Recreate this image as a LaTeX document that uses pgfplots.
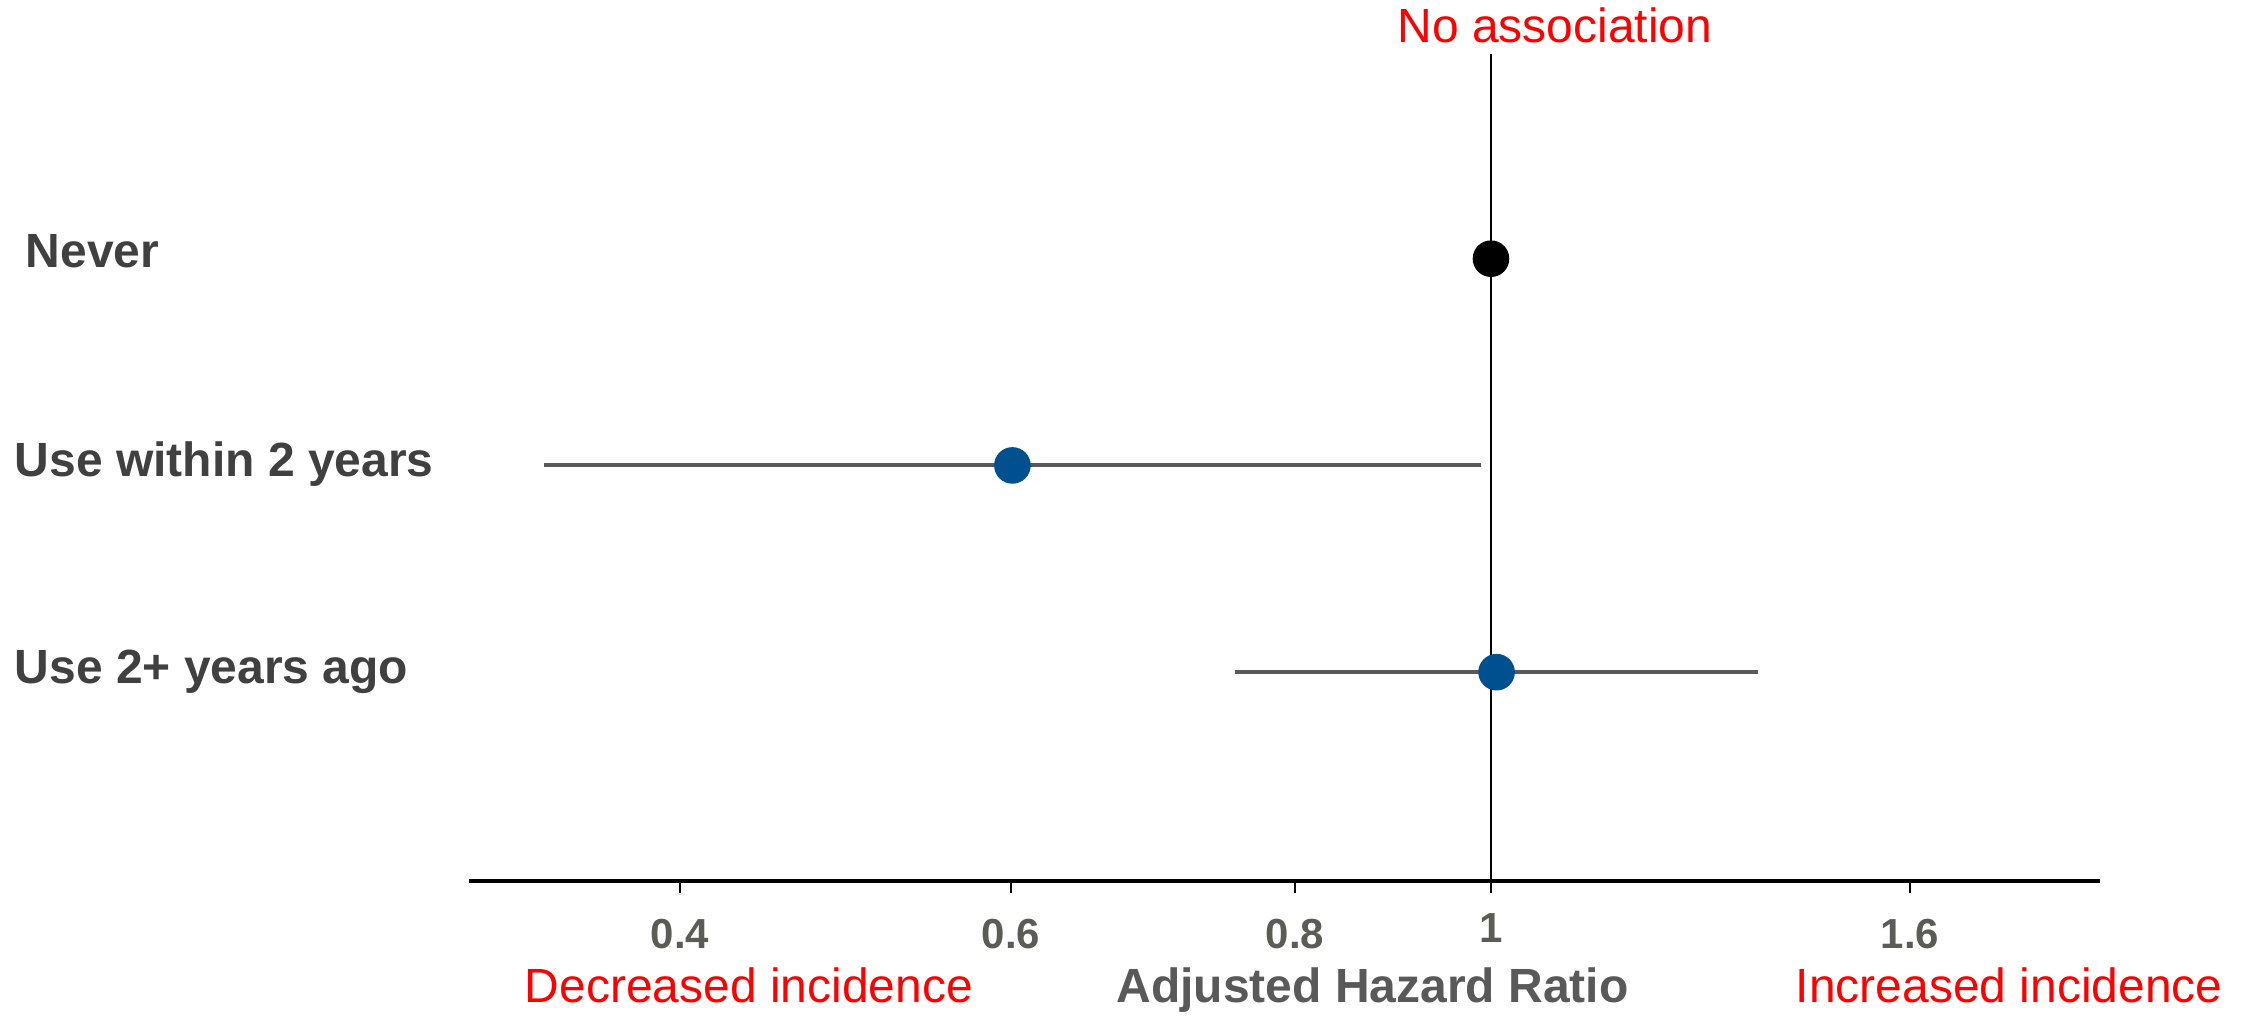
\documentclass[border=0pt]{standalone}
\usepackage{pgfplots}
\pgfplotsset{compat=1.18}
\usepackage{fontspec}
\setmainfont{Liberation Sans}
\definecolor{rowtxt}{HTML}{404040}
\definecolor{ticktxt}{HTML}{5C5C56}
\definecolor{titletxt}{HTML}{595959}
\definecolor{barcol}{HTML}{595959}
\definecolor{ptblue}{HTML}{00508F}
\definecolor{redtxt}{HTML}{FF0000}
\begin{document}
\begin{tikzpicture}
\useasboundingbox (0,0) rectangle (560.75pt,254.5pt);
\begin{axis}[
  at={(117.25pt,34.25pt)}, anchor=south west,
  scale only axis, width=407.75pt, height=206.75pt,
  x coord trafo/.code={\pgfmathparse{(#1<0.6)?(680+(#1-0.4)*1655):((#1<0.8)?(1011+(#1-0.6)*1420):((#1<1)?(1295+(#1-0.8)*980):(1491+(#1-1)*698.3333)))}},
  xmin=0.27251, xmax=1.87208,
  ymin=-0.01, ymax=3.99,
  axis x line*=bottom, axis y line=none,
  x axis line style={-, line width=1pt, black},
  xtick={0.4,0.6,0.8,1,1.6},
  xticklabels={\textbf{0.4},\textbf{0.6},\textbf{0.8},\raisebox{1.5pt}{\textbf{1}},\textbf{1.6}},
  xticklabel style={anchor=base, yshift=-13.8pt, text=ticktxt, font=\fontsize{10.5}{12}\selectfont},
  tick align=outside, major tick length=3pt,
  x tick style={black, line width=0.7pt},
  clip=false,
]
\draw[black, line width=0.5pt] (axis cs:1,3.99) -- (axis cs:1,-0.01);
\addplot[barcol, line width=1pt, forget plot] coordinates {(0.318,2) (0.99,2)};
\addplot[barcol, line width=1pt, forget plot] coordinates {(0.758,1) (1.383,1)};
\addplot[only marks, mark=*, mark size=4.375pt, black, forget plot] coordinates {(1,3)};
\addplot[only marks, mark=*, mark size=4.375pt, ptblue, mark options={draw=ptblue, fill=ptblue}, forget plot] coordinates {(0.601,2) (1.008,1)};
\end{axis}
\begin{scope}[every node/.style={inner sep=0pt, font=\fontsize{12}{14}\selectfont}]
\node[anchor=base west, text=rowtxt] at (6.25pt,187.5pt) {\textbf{Never}};
\node[anchor=base west, text=rowtxt] at (3.5pt,135.25pt) {\textbf{Use within 2 years}};
\node[anchor=base west, text=rowtxt] at (3.5pt,83.5pt) {\textbf{Use 2+ years ago}};
\node[anchor=base, text=redtxt] at (388.75pt,243.75pt) {No association};
\node[anchor=base west, text=redtxt] at (131pt,3.75pt) {Decreased incidence};
\node[anchor=base west, text=redtxt] at (448.75pt,3.75pt) {Increased incidence};
\node[anchor=base, text=titletxt] at (343.1pt,3.75pt) {\textbf{Adjusted Hazard Ratio}};
\end{scope}
\end{tikzpicture}
\end{document}
